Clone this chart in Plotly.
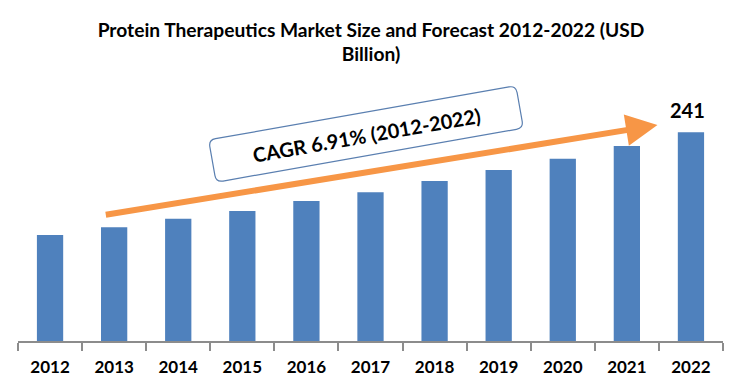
import math
import plotly.graph_objects as go

years = ["2012", "2013", "2014", "2015", "2016", "2017", "2018", "2019", "2020", "2021", "2022"]
market_size = [122.4, 131.3, 141.3, 150.2, 161.7, 171.7, 184.8, 197.5, 210.6, 225.2, 241]
shown_label_years = ["2022"]
title_text = "Protein Therapeutics Market Size and Forecast 2012-2022 (USD<br>Billion)"
cagr_text = "CAGR 6.91% (2012-2022)"

FONT = "Lato"
OFF = 8  # page body margin offset
W, H = 736 - OFF, 388 - OFF
# plot area in page pixels: x 18..723, y 100..341
ML, MR, MT, MB = 18 - OFF, 736 - 723, 100 - OFF, 388 - 341
PW, PH = W - ML - MR, H - MT - MB

fig = go.Figure()
fig.add_trace(go.Bar(
    x=years, y=market_size,
    marker=dict(color="#4F81BD", line=dict(width=0)),
    hoverinfo="x+y",
))

fig.update_layout(
    width=W, height=H,
    margin=dict(l=ML, r=MR, t=MT, b=MB),
    paper_bgcolor="white", plot_bgcolor="white",
    bargap=0.59,
    showlegend=False,
    title=dict(
        text=title_text, x=(371 - OFF) / W, xanchor="center", xref="container",
        y=1 - (36.5 - OFF) / H, yanchor="top",
        font=dict(family=FONT, size=19.2, color="#000000", weight="bold"),
    ),
    xaxis=dict(
        type="category", automargin=False,
        categoryorder="array", categoryarray=years,
        showline=True, linecolor="#8C8C8C", linewidth=1.5,
        ticks="outside", tickson="boundaries", ticklen=8, tickcolor="#8C8C8C", tickwidth=1.5,
        ticklabelstandoff=10,
        showgrid=False,
        tickfont=dict(family=FONT, size=17, color="#000000", weight="bold"),
    ),
    yaxis=dict(visible=False, automargin=False, range=[0, 278.3], showgrid=False),
)

# value label(s) above bars
for i, (y_lab, v) in enumerate(zip(years, market_size)):
    if y_lab in shown_label_years:
        fig.add_annotation(
            x=i, y=v, xref="x", yref="y", text=f"<b>{v:g}</b>",
            showarrow=False, yanchor="bottom", yshift=8, xshift=-3,
            font=dict(family=FONT, size=20, color="#000000"),
        )

# Growth arrow
fig.add_annotation(
    xref="x domain", yref="y domain", axref="x domain", ayref="y domain",
    x=0.907, y=0.896, ax=0.1224, ay=0.523,
    text="", showarrow=True,
    arrowhead=2, arrowsize=1.05, arrowwidth=6, arrowcolor="#F79646",
    standoff=0, startstandoff=0,
)

# CAGR rounded, rotated box (built in page pixels, converted to paper coords)
cx, cy, bw, bh, ang, rad = 366, 134, 312, 43, math.radians(-10), 7


def to_paper(px, py):
    return (px - OFF - ML) / PW, (H - MB - (py - OFF)) / PH


def pt(u, v):
    x = cx + u * math.cos(ang) - v * math.sin(ang)
    y = cy + u * math.sin(ang) + v * math.cos(ang)
    return to_paper(x, y)


hw, hh = bw / 2, bh / 2
seq = [
    ("M", [(-hw + rad, -hh)]),
    ("L", [(hw - rad, -hh)]),
    ("Q", [(hw, -hh), (hw, -hh + rad)]),
    ("L", [(hw, hh - rad)]),
    ("Q", [(hw, hh), (hw - rad, hh)]),
    ("L", [(-hw + rad, hh)]),
    ("Q", [(-hw, hh), (-hw, hh - rad)]),
    ("L", [(-hw, -hh + rad)]),
    ("Q", [(-hw, -hh), (-hw + rad, -hh)]),
]
path = ""
for cmd, pts in seq:
    path += cmd + " " + " ".join(f"{pt(u, v)[0]:.5f},{pt(u, v)[1]:.5f}" for u, v in pts) + " "
path += "Z"

fig.add_shape(type="path", xref="paper", yref="paper", path=path,
              fillcolor="white", line=dict(color="#5A7FB0", width=1.2), layer="above")

fig.add_annotation(
    xref="paper", yref="paper",
    x=to_paper(cx, cy)[0], y=to_paper(cx, cy + 1)[1],
    xanchor="center", yanchor="middle",
    text=cagr_text, showarrow=False, textangle=-10,
    font=dict(family=FONT, size=20, color="#000000", weight="bold"),
)

fig.write_html("out.html")
